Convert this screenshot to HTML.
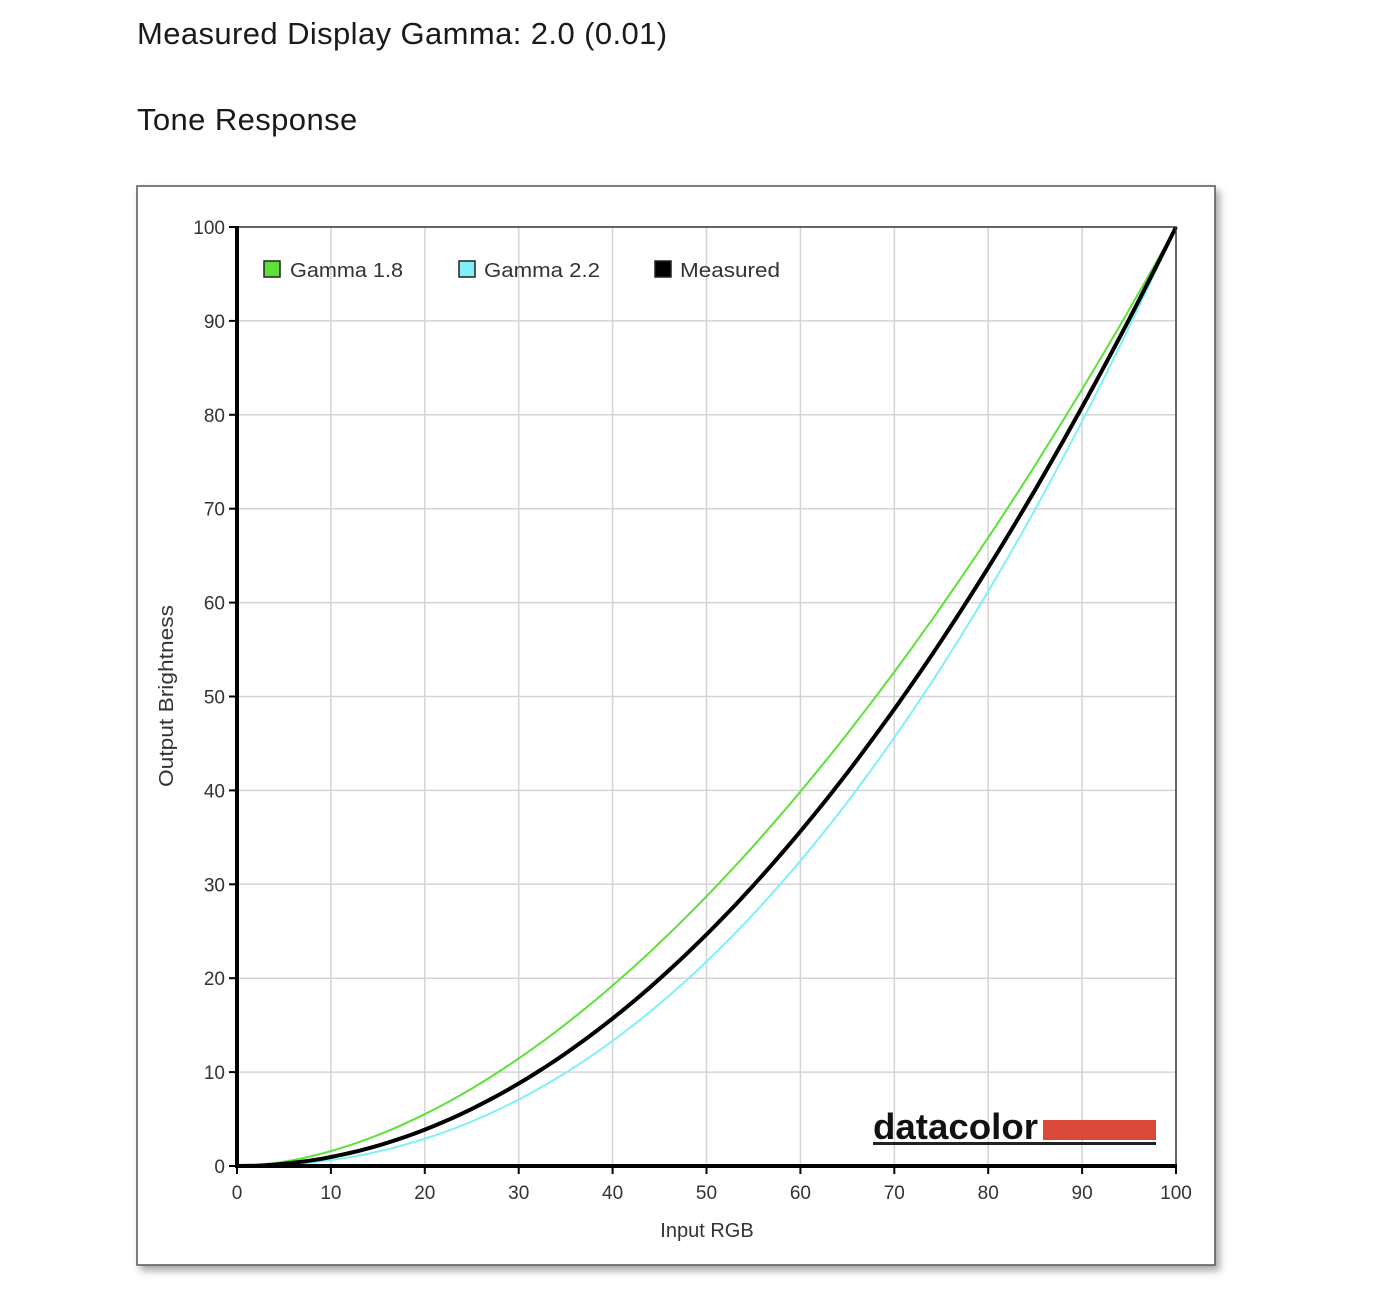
<!DOCTYPE html>
<html><head><meta charset="utf-8"><style>
body{margin:0;background:#fff;width:1388px;height:1298px;overflow:hidden;font-family:"Liberation Sans",sans-serif;}
.t{position:absolute;left:137px;font-size:31px;letter-spacing:0.4px;color:#1a1a1a;}
</style></head><body>
<div class="t" style="top:16px">Measured Display Gamma: 2.0 (0.01)</div>
<div class="t" style="top:102px">Tone Response</div>
<svg id="s" width="1388" height="1298" style="position:absolute;left:0;top:0" font-family="Liberation Sans, sans-serif">
<defs><filter id="sh" x="-5%" y="-5%" width="110%" height="110%"><feDropShadow dx="4" dy="5" stdDeviation="4" flood-color="#000" flood-opacity="0.35"/></filter></defs>
<rect x="137" y="186" width="1078" height="1079" fill="#fff" stroke="#555" stroke-width="1.5" filter="url(#sh)"/>
<g id="grid"></g>
<g id="curves"></g>
<line x1="237" y1="227" x2="1177" y2="227" stroke="#333" stroke-width="1.5"/>
<line x1="1176" y1="227" x2="1176" y2="1166" stroke="#333" stroke-width="1.5"/>
<line x1="237" y1="226" x2="237" y2="1168" stroke="#000" stroke-width="4"/>
<line x1="235" y1="1166" x2="1177" y2="1166" stroke="#000" stroke-width="4"/>
<g id="ticks" font-size="19" fill="#333"></g>
<text x="707" y="1237" font-size="20" fill="#333" text-anchor="middle">Input RGB</text>
<text transform="translate(173,696) rotate(-90)" font-size="20" fill="#333" text-anchor="middle" textLength="182" lengthAdjust="spacingAndGlyphs">Output Brightness</text>
<g font-size="20" fill="#333">
<rect x="264" y="261" width="16" height="16" fill="#5ee03a" stroke="#222" stroke-width="1.5"/><text x="290" y="277" textLength="113" lengthAdjust="spacingAndGlyphs">Gamma 1.8</text>
<rect x="459" y="261" width="16" height="16" fill="#7ff0f7" stroke="#222" stroke-width="1.5"/><text x="484" y="277" textLength="116" lengthAdjust="spacingAndGlyphs">Gamma 2.2</text>
<rect x="655" y="261" width="16" height="16" fill="#000" stroke="#222" stroke-width="1.5"/><text x="680" y="277" textLength="100" lengthAdjust="spacingAndGlyphs">Measured</text>
</g>
<text x="873" y="1139" font-size="36" font-weight="bold" fill="#111" textLength="165" lengthAdjust="spacingAndGlyphs">datacolor</text>
<rect x="1043" y="1120" width="113" height="20" fill="#d9483a"/>
<rect x="873" y="1142" width="283" height="3" fill="#222"/>
</svg>
<script>
var X=function(v){return 237+v*9.39},Y=function(v){return 1166-v*9.39};
var g='',t='';
for(var i=0;i<=100;i+=10){
 if(i>0&&i<100){g+='<line x1="'+X(i)+'" y1="227" x2="'+X(i)+'" y2="1166" stroke="#d4d4d4" stroke-width="1.5"/>';
 g+='<line x1="237" y1="'+Y(i)+'" x2="1176" y2="'+Y(i)+'" stroke="#d4d4d4" stroke-width="1.5"/>';}
 t+='<line x1="'+X(i)+'" y1="1166" x2="'+X(i)+'" y2="1174" stroke="#000" stroke-width="2"/>';
 t+='<line x1="229" y1="'+Y(i)+'" x2="237" y2="'+Y(i)+'" stroke="#000" stroke-width="2"/>';
 t+='<text x="'+X(i)+'" y="1199" text-anchor="middle">'+i+'</text>';
 t+='<text x="225" y="'+(Y(i)+7)+'" text-anchor="end">'+i+'</text>';
}
function p(f){var s='';for(var i=0;i<=100;i++){var x=i/100;s+=(i?'L':'M')+X(i).toFixed(1)+','+Y(100*f(x)).toFixed(1);}return s;}
var c='<path d="'+p(function(x){return Math.pow(x,1.8)})+'" fill="none" stroke="#5ee03a" stroke-width="2"/>';
c+='<path d="'+p(function(x){return Math.pow(x,2.2)})+'" fill="none" stroke="#7ff0f7" stroke-width="2"/>';
c+='<path d="'+p(function(x){return Math.pow(x,2.02)})+'" fill="none" stroke="#000" stroke-width="4"/>';
document.getElementById('grid').innerHTML=g;
document.getElementById('ticks').innerHTML=t;
document.getElementById('curves').innerHTML=c;
</script>
</body></html>
